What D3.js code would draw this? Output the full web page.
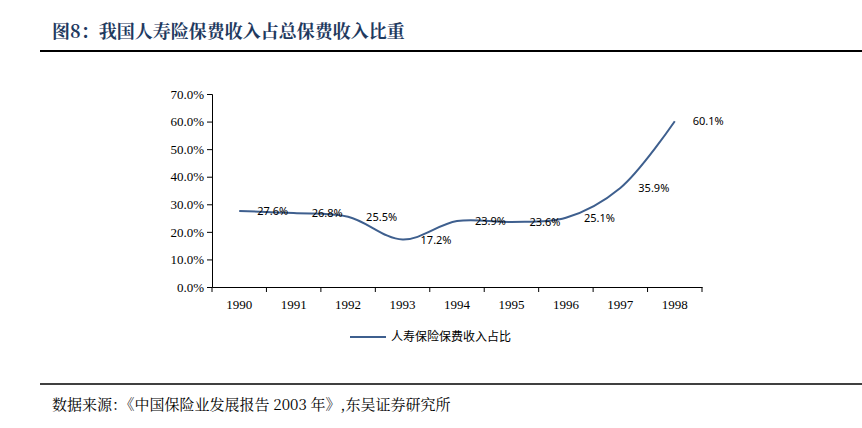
<!DOCTYPE html>
<html><head><meta charset="utf-8">
<script src="https://cdn.jsdelivr.net/npm/d3@7"></script>
<style>body{margin:0;background:#fff}</style>
</head><body>
<script>
const years = ["1990","1991","1992","1993","1994","1995","1996","1997","1998"];
const shares = [27.6, 26.8, 25.5, 17.2, 23.9, 23.6, 25.1, 35.9, 60.1];
const yTicks = [0, 10, 20, 30, 40, 50, 60, 70];

const svg = d3.select("body").append("svg").attr("width", 862).attr("height", 428);

svg.append("text").attr("x", 52).attr("y", 38)
    .attr("font-family", "'Noto Serif CJK SC','Liberation Serif',serif")
    .attr("font-size", 18).attr("font-weight", "bold")
    .attr("fill", "#1f3a5f").text("图8：我国人寿险保费收入占总保费收入比重");
svg.append("line").attr("x1", 40).attr("x2", 862).attr("y1", 51).attr("y2", 51)
    .attr("stroke", "#000").attr("stroke-width", 2);

const x = d3.scaleBand().domain(years).range([212, 702]);
const y = d3.scaleLinear().domain([0, 70]).range([287, 94]);

const serifFam = "Liberation Serif, Times New Roman, serif";

const yAxis = svg.append("g").attr("transform", "translate(212,0)")
    .call(d3.axisLeft(y).tickValues(yTicks).tickSizeOuter(0).tickSize(5).tickFormat(d => d.toFixed(1) + "%"));
yAxis.attr("font-family", serifFam).attr("font-size", 13);
yAxis.selectAll("text").attr("fill", "#000");

const xAxis = svg.append("g").attr("transform", "translate(0,287)")
    .call(d3.axisBottom(x).tickSize(0).tickSizeOuter(0).tickPadding(13));
xAxis.attr("font-family", serifFam).attr("font-size", 13);
xAxis.selectAll("text").attr("fill", "#000");
svg.append("g").selectAll("line").data(years.concat(["end"])).join("line")
    .attr("x1", (d, i) => 212 + i * x.step()).attr("x2", (d, i) => 212 + i * x.step())
    .attr("y1", 287).attr("y2", 292).attr("stroke", "#000");
svg.selectAll(".domain").attr("stroke", "#000");

const cx = d => x(d) + x.bandwidth() / 2;
const line = d3.line().x((d, i) => cx(years[i])).y(d => y(d)).curve(d3.curveCatmullRom.alpha(0.5));
svg.append("path").datum(shares).attr("d", line)
    .attr("fill", "none").attr("stroke", "#3e5f8e").attr("stroke-width", 2);

svg.append("g").selectAll("text").data(shares).join("text")
    .attr("x", (d, i) => cx(years[i]) + 18)
    .attr("y", d => y(d) + 4)
    .attr("font-family", "Noto Sans, DejaVu Sans, sans-serif").attr("font-size", 11)
    .attr("fill", "#000").text(d => d.toFixed(1) + "%");

svg.append("line").attr("x1", 350).attr("x2", 386).attr("y1", 337).attr("y2", 337)
    .attr("stroke", "#3e5f8e").attr("stroke-width", 2);
svg.append("text").attr("x", 391).attr("y", 341)
    .attr("font-family", "Noto Sans CJK SC, sans-serif").attr("font-size", 12)
    .attr("fill", "#000").text("人寿保险保费收入占比");

svg.append("line").attr("x1", 40).attr("x2", 862).attr("y1", 384).attr("y2", 384)
    .attr("stroke", "#000").attr("stroke-width", 1.5);
svg.append("text").attr("x", 52).attr("y", 410)
    .attr("font-family", "Noto Serif CJK SC, Liberation Serif, serif").attr("font-size", 15)
    .attr("fill", "#000").text("数据来源：《中国保险业发展报告 2003 年》,东吴证券研究所");
</script>
</body></html>
